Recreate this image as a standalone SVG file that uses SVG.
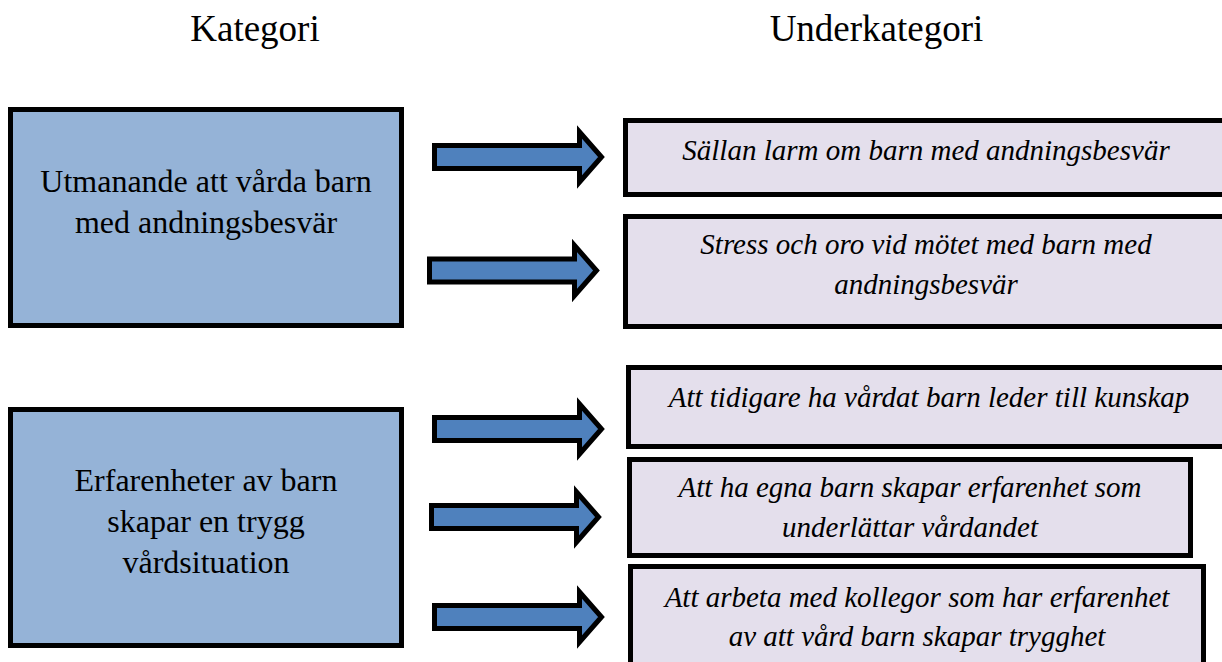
<svg xmlns="http://www.w3.org/2000/svg" width="1222" height="662" viewBox="0 0 1222 662">
  <style>
    .hdr { font-family: "Liberation Serif", "Times New Roman", serif; font-size: 37px; fill: #000; text-anchor: middle; }
    .cat { fill: #95b3d7; stroke: #000; stroke-width: 5; }
    .sub { fill: #e4dfec; stroke: #000; stroke-width: 5; }
    .catText { font-family: "Liberation Serif", "Times New Roman", serif; font-size: 32px; fill: #000; text-anchor: middle; }
    .subText { font-family: "Liberation Serif", "Times New Roman", serif; font-size: 29px; font-style: italic; fill: #000; text-anchor: middle; }
    .arrow { fill: #4f81bd; stroke: #000; stroke-width: 5; stroke-linejoin: miter; }
  </style>
  <defs>
    <path id="arr" d="M 2.5,-11.5 H 147.5 V -25 L 169.5,0 L 147.5,25 V 11.5 H 2.5 Z"/>
  </defs>
  <rect width="1222" height="662" fill="#fff"/>

  <g id="headers">
    <text class="hdr" x="255" y="41">Kategori</text>
    <text class="hdr" x="876.5" y="41">Underkategori</text>
  </g>

  <g id="cat1">
    <rect class="cat" x="10.5" y="109.5" width="391" height="216"/>
    <text class="catText" x="206" y="192">Utmanande att vårda barn</text>
    <text class="catText" x="206" y="233">med andningsbesvär</text>
  </g>

  <g id="cat2">
    <rect class="cat" x="10.5" y="409.5" width="391" height="236"/>
    <text class="catText" x="206" y="491">Erfarenheter av barn</text>
    <text class="catText" x="206" y="532">skapar en trygg</text>
    <text class="catText" x="206" y="573">vårdsituation</text>
  </g>

  <g id="sub1">
    <rect class="sub" x="625.5" y="120.5" width="601" height="74"/>
    <text class="subText" x="926" y="160">Sällan larm om barn med andningsbesvär</text>
  </g>

  <g id="sub2">
    <rect class="sub" x="625.5" y="216.5" width="601" height="110"/>
    <text class="subText" x="926" y="254">Stress och oro vid mötet med barn med</text>
    <text class="subText" x="926" y="294">andningsbesvär</text>
  </g>

  <g id="sub3">
    <rect class="sub" x="628.5" y="367.5" width="601" height="79"/>
    <text class="subText" x="929" y="407">Att tidigare ha vårdat barn leder till kunskap</text>
  </g>

  <g id="sub4">
    <rect class="sub" x="629.5" y="459.5" width="561" height="96"/>
    <text class="subText" x="910" y="497">Att ha egna barn skapar erfarenhet som</text>
    <text class="subText" x="910" y="537">underlättar vårdandet</text>
  </g>

  <g id="sub5">
    <rect class="sub" x="630.5" y="566.5" width="573" height="110"/>
    <text class="subText" x="917" y="607">Att arbeta med kollegor som har erfarenhet</text>
    <text class="subText" x="917" y="646">av att vård barn skapar trygghet</text>
  </g>

  <g id="connectors">
    <use href="#arr" class="arrow" transform="translate(432,157)"/>
    <use href="#arr" class="arrow" transform="translate(427,270.5)"/>
    <use href="#arr" class="arrow" transform="translate(432,429)"/>
    <use href="#arr" class="arrow" transform="translate(429,517)"/>
    <use href="#arr" class="arrow" transform="translate(432,617)"/>
  </g>
</svg>
